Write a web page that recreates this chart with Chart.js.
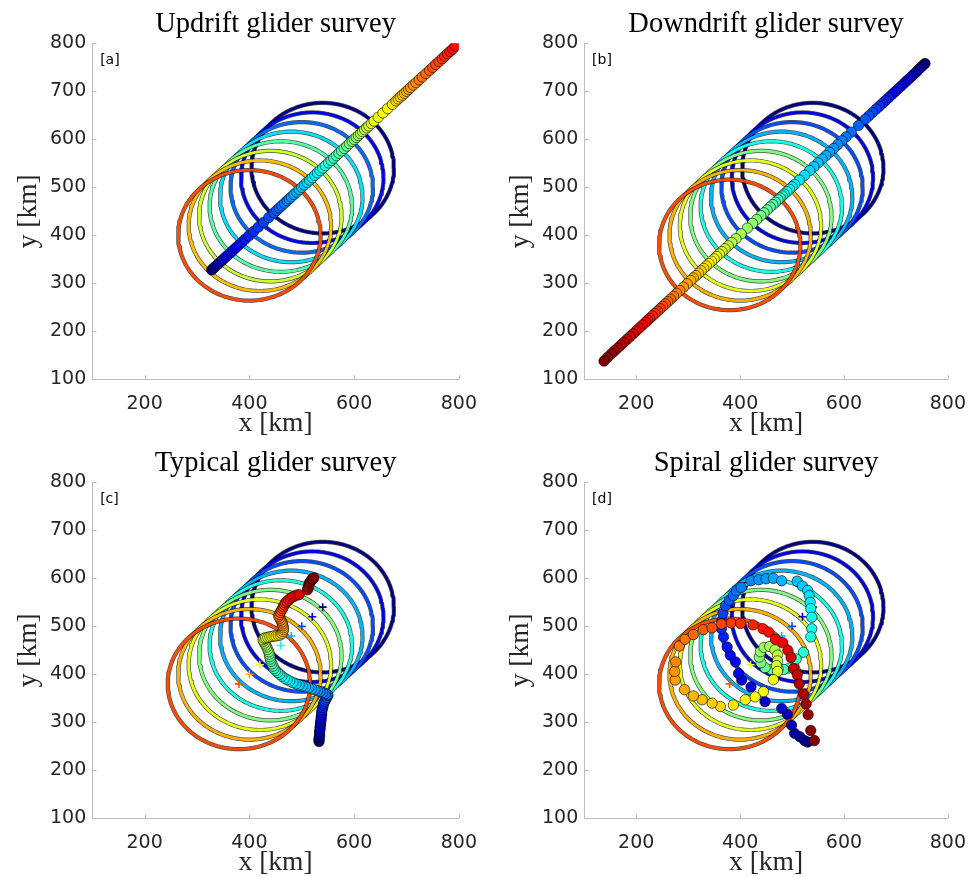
<!DOCTYPE html>
<html lang="en">
<head>
  <meta charset="UTF-8" />
  <title>Glider surveys</title>
  <script src="https://cdn.jsdelivr.net/npm/chart.js"></script>
  <style>
    body { margin: 0; background: #fff; width: 979px; height: 877px; overflow: hidden; }
    canvas { position: absolute; }
  </style>
</head>
<body>
  <canvas id="pa" style="left:0;top:0" width="490" height="438"></canvas>
  <canvas id="pb" style="left:492px;top:0" width="487" height="438"></canvas>
  <canvas id="pc" style="left:0;top:439px" width="490" height="438"></canvas>
  <canvas id="pd" style="left:492px;top:439px" width="487" height="438"></canvas>

  <script>
    // axis ticks
    const xTicks = [200, 400, 600, 800];
    const yTicks = [100, 200, 300, 400, 500, 600, 700, 800];

    // eddy positions (ring centres, km) and the time (0..1) of each ring
    const eddyA = [540, 520, 500, 480, 460, 440, 420, 400];
    const eddyTimeA = [0, 0.115, 0.23, 0.345, 0.46, 0.575, 0.69, 0.8];
    const eddyB = [540, 520, 500, 480, 460, 440, 420, 400, 380];
    const eddyTimeB = [0, 0.1, 0.2, 0.3, 0.4, 0.5, 0.6, 0.7, 0.8];
    const eddyRadius = 136;

    // glider tracks (km), in time order
    const updriftX = [328, 331, 334, 337, 340, 344, 348, 352, 356, 360, 364, 369, 374, 380, 386, 392,
      399, 408, 417, 427, 437, 447,
      452, 457, 462, 467, 472, 476, 480, 485, 490, 495, 500, 505, 510, 515, 520, 525, 530, 535, 540, 545, 551, 556,
      561, 566, 571, 576, 581, 586, 591, 596,
      600, 604, 608, 612, 616, 620, 624, 628, 633, 638,
      646, 655, 664, 673,
      680, 684, 688, 692, 696, 700, 704, 708, 713, 718,
      724, 730, 737, 744, 750, 756, 762, 768,
      773, 778, 783, 788, 793];
    const updriftY = [328, 331, 334, 337, 340, 344, 348, 352, 356, 360, 364, 369, 374, 380, 386, 392,
      399, 408, 417, 427, 437, 447,
      452, 457, 462, 467, 472, 476, 480, 485, 490, 495, 500, 505, 510, 515, 520, 525, 530, 535, 540, 545, 551, 556,
      561, 566, 571, 576, 581, 586, 591, 596,
      600, 604, 608, 612, 616, 620, 624, 628, 633, 638,
      646, 655, 664, 673,
      680, 684, 688, 692, 696, 700, 704, 708, 713, 718,
      724, 730, 737, 744, 750, 756, 762, 768,
      773, 778, 783, 788, 794];

    const downdriftX = [756, 752, 748, 744, 740, 736, 731, 726, 721, 716, 710, 704, 698, 692, 686, 680, 674, 668, 662, 655, 648, 641, 628, 614, 604,
      596, 588, 580, 572, 565, 558, 550, 542, 534, 524, 514, 505,
      500, 495, 490, 485, 481, 477, 473, 468, 463, 458, 452, 446, 440,
      432, 424, 414, 402, 392, 384, 377, 371, 365, 360, 355, 350,
      345, 340, 335, 330, 325, 320, 315, 310, 305, 298, 291,
      284, 278, 272, 266, 261, 256, 251, 246, 241, 236, 231, 226, 222, 218,
      212, 206, 200, 194, 188, 182, 176, 170, 164, 158, 152, 145, 138];
    const downdriftY = [758, 754, 750, 746, 741, 737, 732, 727, 722, 717, 711, 705, 699, 693, 687, 681, 675, 669, 663, 656, 649, 642, 629, 615, 605,
      597, 589, 581, 573, 566, 559, 551, 543, 535, 525, 515, 506,
      501, 496, 491, 486, 482, 478, 474, 469, 464, 459, 453, 447, 441,
      433, 425, 415, 403, 393, 385, 378, 372, 366, 361, 356, 351,
      346, 341, 336, 331, 326, 321, 316, 311, 306, 299, 292,
      285, 279, 273, 267, 262, 257, 252, 247, 242, 237, 232, 227, 223, 219,
      213, 207, 201, 195, 189, 183, 177, 171, 165, 159, 153, 146, 138];

    const typicalX = [533, 533, 533, 534, 534, 534, 535, 535, 536, 536, 537, 537, 538, 538, 539, 540, 541, 542, 544, 546, 548, 550,
      549, 545, 540, 535, 530, 525, 519, 513, 507, 501, 495, 489, 483, 477, 472, 467, 462, 458, 454,
      450, 447, 445, 443, 441, 440, 439, 438, 437, 435, 433, 431, 429, 427, 426, 428,
      431, 435, 439, 443, 447, 451, 455, 459,
      462, 464, 465, 465, 464, 463, 462, 460, 458, 456,
      457, 459, 461, 463, 465, 467, 469, 472, 475, 478, 482, 486, 490, 495,
      511, 512, 513, 514, 515, 517, 519, 521, 523];
    const typicalY = [260, 263, 267, 271, 276, 281, 286, 291, 296, 301, 306, 311, 316, 321, 326, 331, 336, 340, 344, 348, 352, 356,
      358, 360, 362, 364, 366, 368, 370, 372, 374, 376, 378, 380, 383, 386, 389, 392, 396, 400, 404,
      408, 412, 417, 422, 427, 432, 437, 442, 447, 452, 457, 461, 465, 469, 472, 475,
      476, 477, 478, 479, 480, 480, 481, 482,
      485, 489, 493, 497, 501, 505, 509, 513, 517, 521,
      525, 529, 533, 537, 541, 545, 549, 552, 555, 558, 561, 563, 565, 566,
      576, 580, 584, 588, 591, 594, 597, 599, 601];

    const spiralX = [530, 524, 515, 505, 499, 491, 480, 448, 421, 403, 397, 391, 381, 375, 368, 364, 365, 367, 372, 379,
      387, 393, 402, 421, 436, 450, 464, 480, 510, 520, 530, 533, 535, 536, 538, 538, 536,
      522, 508, 495, 484, 473, 460, 448, 440, 437, 439, 446, 457, 467, 472, 472, 470,
      472, 464, 445, 429, 410, 387, 362, 346, 327, 310, 293, 275, 274, 276, 283, 294, 310, 329, 346, 364,
      383, 401, 425, 444, 455, 468, 482, 492, 498, 503, 510, 514, 522, 527, 531, 536, 543];
    const spiralY = [259, 262, 270, 277, 294, 317, 329, 343, 374, 388, 402, 426, 440, 457, 478, 495, 512, 527, 543, 554,
      564, 574, 581, 595, 597, 599, 600, 595, 594, 584, 575, 564, 550, 537, 519, 495, 478,
      446, 432, 413, 410, 411, 410, 414, 424, 436, 447, 456, 458, 451, 440, 428, 418,
      406, 389, 364, 353, 347, 336, 333, 340, 347, 355, 368, 388, 406, 426, 459, 473, 483, 493, 497, 505,
      507, 506, 503, 495, 488, 473, 466, 450, 435, 412, 399, 380, 359, 338, 316, 283, 262];

    // jet colormap
    function jet(t) {
      const c = v => Math.round(255 * Math.max(0, Math.min(1, v)));
      return `rgb(${c(1.5 - Math.abs(4 * t - 3))},${c(1.5 - Math.abs(4 * t - 2))},${c(1.5 - Math.abs(4 * t - 1))})`;
    }

    function ringOutline(cx, cy, r) {
      const pts = [];
      for (let k = 0; k <= 144; k++) {
        const a = 2 * Math.PI * k / 144;
        pts.push({ x: cx + r * Math.cos(a), y: cy + r * Math.sin(a) });
      }
      return pts;
    }

    const decor = {
      id: 'decor',
      afterDatasetsDraw(chart, args, opts) {
        const { ctx, chartArea: area, scales: { x, y } } = chart;
        ctx.save();
        ctx.strokeStyle = '#bdbdbd';
        ctx.lineWidth = 1;
        ctx.beginPath();
        xTicks.forEach(v => {
          const px = Math.round(x.getPixelForValue(v)) + 0.5;
          ctx.moveTo(px, area.bottom);
          ctx.lineTo(px, area.bottom - 4);
        });
        yTicks.forEach(v => {
          const py = Math.round(y.getPixelForValue(v)) + 0.5;
          ctx.moveTo(area.left, py);
          ctx.lineTo(area.left + 4, py);
        });
        ctx.stroke();
        ctx.fillStyle = '#000';
        ctx.font = '14px "DejaVu Sans"';
        ctx.textBaseline = 'middle';
        ctx.fillText(opts.tag, x.getPixelForValue(115), y.getPixelForValue(765));
        ctx.restore();
      }
    };

    function makePanel(id, title, tag, gx, gy, tEnd, centres, times) {
      const datasets = [];
      const n = gx.length;
      datasets.push({
        data: gx.map((v, i) => ({ x: v, y: gy[i] })),
        pointRadius: 5.2,
        pointBackgroundColor: gx.map((v, i) => jet(tEnd * i / (n - 1))),
        pointBorderColor: '#000',
        pointBorderWidth: 0.6,
        showLine: false,
        order: 0
      });
      datasets.push({
        data: centres.map(c => ({ x: c, y: c })),
        pointStyle: 'cross',
        pointRadius: 4,
        pointBorderWidth: 1.6,
        pointBorderColor: times.map(t => jet(t)),
        showLine: false,
        order: 1
      });
      centres.forEach((c, i) => {
        const pts = ringOutline(c, c, eddyRadius);
        const common = { data: pts, showLine: true, pointRadius: 0, borderCapStyle: 'round', borderJoinStyle: 'round' };
        datasets.push(Object.assign({ borderColor: jet(times[i]), borderWidth: 2.8, order: 40 - 2 * i }, common));
        datasets.push(Object.assign({ borderColor: 'rgba(0,0,0,0.7)', borderWidth: 4.2, order: 41 - 2 * i }, common));
      });

      new Chart(document.getElementById(id), {
        type: 'scatter',
        data: { datasets },
        options: {
          responsive: false,
          animation: false,
          devicePixelRatio: 1,
          layout: { padding: { left: 0, right: document.getElementById(id).width - 459, top: 0, bottom: 0 } },
          plugins: {
            legend: { display: false },
            tooltip: { enabled: false },
            title: {
              display: true, text: title, fullSize: false, color: '#000',
              font: { family: '"Liberation Serif"', size: 28.5, weight: 'normal', lineHeight: 1.1 },
              padding: { top: 9, bottom: 3 }
            },
            decor: { tag }
          },
          scales: {
            x: {
              type: 'linear', min: 100, max: 800,
              afterBuildTicks: s => { s.ticks = xTicks.map(v => ({ value: v })); },
              afterFit: s => { s.height = 58.7; },
              grid: { display: false, drawTicks: false },
              border: { display: true, color: '#bdbdbd', width: 1 },
              ticks: { color: '#262626', padding: 13, font: { family: '"DejaVu Sans"', size: 19 } },
              title: {
                display: true, text: 'x [km]', color: '#262626',
                font: { family: '"Liberation Serif"', size: 27.5, lineHeight: 1 }, padding: { top: 0, bottom: 0 }
              }
            },
            y: {
              type: 'linear', min: 100, max: 800,
              afterBuildTicks: s => { s.ticks = yTicks.map(v => ({ value: v })); },
              afterFit: s => { s.width = 92.3; },
              grid: { display: false, drawTicks: false },
              border: { display: true, color: '#bdbdbd', width: 1 },
              ticks: { color: '#262626', padding: 6, font: { family: '"DejaVu Sans"', size: 19 } },
              title: {
                display: true, text: 'y [km]', color: '#262626',
                font: { family: '"Liberation Serif"', size: 27.5 }, padding: { top: 12, bottom: 0 }
              }
            }
          }
        },
        plugins: [decor]
      });
    }

    makePanel('pa', 'Updrift glider survey', '[a]', updriftX, updriftY, 0.87, eddyA, eddyTimeA);
    makePanel('pb', 'Downdrift glider survey', '[b]', downdriftX, downdriftY, 1, eddyB, eddyTimeB);
    makePanel('pc', 'Typical glider survey', '[c]', typicalX, typicalY, 1, eddyB, eddyTimeB);
    makePanel('pd', 'Spiral glider survey', '[d]', spiralX, spiralY, 1, eddyB, eddyTimeB);
  </script>
</body>
</html>
